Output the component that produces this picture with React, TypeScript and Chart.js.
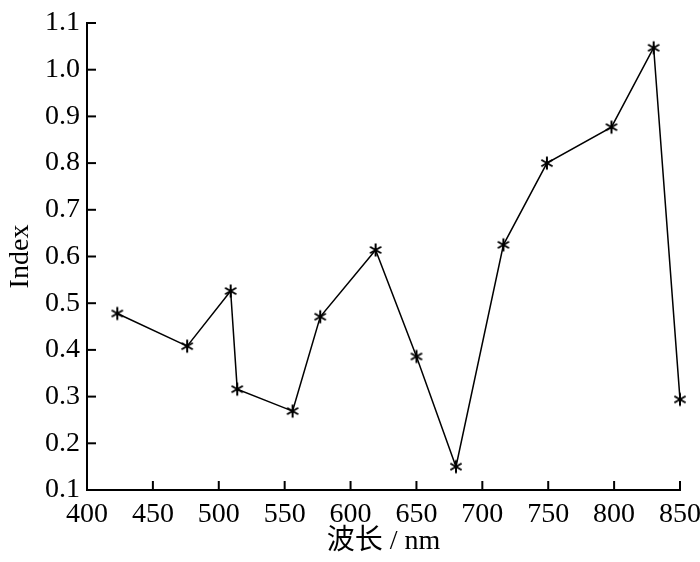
import React, { useEffect, useRef } from 'react';
import { Chart, registerables } from 'chart.js';

Chart.register(...registerables);

// wavelength (nm) and index
const wavelengths = [423, 476, 509, 514, 556, 577, 619, 650, 680, 716, 749, 798, 830, 850];
const indexValues = [0.478, 0.408, 0.526, 0.316, 0.269, 0.471, 0.614, 0.386, 0.15, 0.625, 0.8, 0.877, 1.047, 0.294];

const xTitle = '波长 / nm';
const yTitle = 'Index';

const FONT = "'Liberation Serif', 'Times New Roman', 'Noto Sans CJK SC', serif";

// six-armed asterisk like the plotted marker
const makeAsterisk = () => {
  const c = document.createElement('canvas');
  c.width = 16;
  c.height = 16;
  const ctx = c.getContext('2d')!;
  ctx.strokeStyle = '#000';
  ctx.lineWidth = 2;
  ctx.lineCap = 'butt';
  const r = 6.5;
  [90, 30, 150].forEach(deg => {
    const a = (deg * Math.PI) / 180;
    ctx.beginPath();
    ctx.moveTo(8 - r * Math.cos(a), 8 - r * Math.sin(a));
    ctx.lineTo(8 + r * Math.cos(a), 8 + r * Math.sin(a));
    ctx.stroke();
  });
  return c;
};

// inward tick marks on the two axes
const innerTicks = {
  id: 'innerTicks',
  afterDraw(chart: any) {
    const { ctx, chartArea, scales } = chart;
    const len = 9;
    ctx.save();
    ctx.strokeStyle = '#000';
    ctx.lineWidth = 2;
    scales.x.ticks.forEach((t: any) => {
      const px = scales.x.getPixelForValue(t.value);
      ctx.beginPath();
      ctx.moveTo(px, chartArea.bottom);
      ctx.lineTo(px, chartArea.bottom - len);
      ctx.stroke();
    });
    scales.y.ticks.forEach((t: any) => {
      const py = scales.y.getPixelForValue(t.value);
      ctx.beginPath();
      ctx.moveTo(chartArea.left, py);
      ctx.lineTo(chartArea.left + len, py);
      ctx.stroke();
    });
    ctx.restore();
  },
};

const App: React.FC = () => {
  const chartRef = useRef<HTMLCanvasElement>(null);
  const chartInstance = useRef<Chart | null>(null);

  useEffect(() => {
    document.body.style.margin = '0';
    if (!chartRef.current) return;
    if (chartInstance.current) chartInstance.current.destroy();

    const marker = makeAsterisk();

    chartInstance.current = new Chart(chartRef.current, {
      type: 'line',
      data: {
        datasets: [{
          label: yTitle,
          data: wavelengths.map((w, i) => ({ x: w, y: indexValues[i] })),
          borderColor: '#000',
          borderWidth: 1.5,
          pointStyle: marker as any,
          pointRadius: 7,
          tension: 0,
          clip: false as any,
        }],
      },
      options: {
        animation: false,
        responsive: false,
        layout: { padding: { top: 23, right: 20, left: 0, bottom: 0 } },
        plugins: { legend: { display: false }, tooltip: { enabled: false } },
        scales: {
          x: {
            type: 'linear',
            min: 400,
            max: 850,
            grid: { display: false, drawTicks: false },
            border: { display: true, color: '#000', width: 2 },
            ticks: {
              stepSize: 50,
              color: '#000',
              padding: 8,
              maxRotation: 0,
              font: { family: FONT, size: 28 },
            },
            title: {
              display: true,
              text: xTitle,
              color: '#000',
              font: { family: FONT, size: 28 },
              padding: { top: 0, bottom: 4 },
            },
            afterFit: (scale: any) => {
              scale.height = 72;
              scale.paddingLeft = 0;
              scale.paddingRight = 0;
            },
          },
          y: {
            type: 'linear',
            min: 0.1,
            max: 1.1,
            grid: { display: false, drawTicks: false },
            border: { display: true, color: '#000', width: 2 },
            ticks: {
              stepSize: 0.1,
              color: '#000',
              padding: 7,
              font: { family: FONT, size: 28 },
              callback: (v: any) => Number(v).toFixed(1),
            },
            title: {
              display: true,
              text: yTitle,
              color: '#000',
              font: { family: FONT, size: 28 },
              padding: { top: 4, bottom: 0 },
            },
            afterFit: (scale: any) => {
              scale.width = 87;
              scale.paddingTop = 0;
              scale.paddingBottom = 0;
            },
          },
        },
      },
      plugins: [innerTicks],
    });

    return () => {
      if (chartInstance.current) {
        chartInstance.current.destroy();
        chartInstance.current = null;
      }
    };
  }, []);

  return (
    <div style={{ position: 'absolute', left: 0, top: 0, width: 700, height: 562, background: '#fff' }}>
      <canvas ref={chartRef} width={700} height={562}></canvas>
    </div>
  );
};

export default App;
